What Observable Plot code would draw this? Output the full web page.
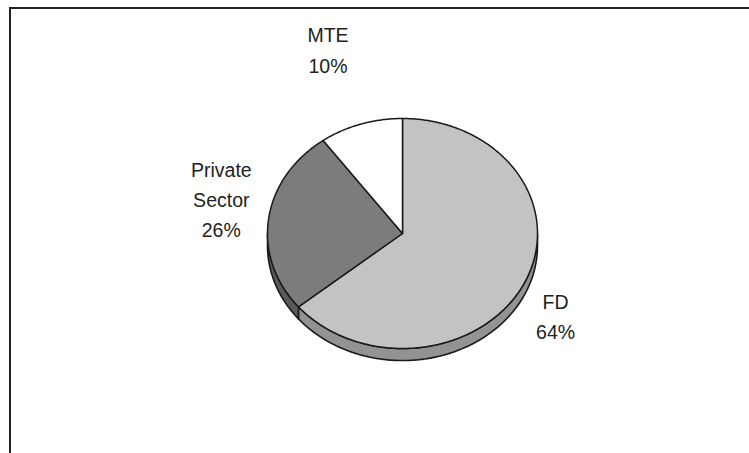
<!DOCTYPE html>
<html><head><meta charset="utf-8">
<script src="https://cdn.jsdelivr.net/npm/d3@7"></script>
<script src="https://cdn.jsdelivr.net/npm/@observablehq/plot@0.6"></script>
<style>
body{margin:0;background:#fff;}
#chart{position:relative;width:749px;height:453px;overflow:hidden;background:#fff;}
#frame{position:absolute;left:9px;top:7px;width:800px;height:500px;border-left:2px solid #222;border-top:2px solid #222;pointer-events:none;}
#chart svg{position:absolute;left:0;top:0;}
</style></head><body><div id="chart"><div id="frame"></div></div>
<script>
// data
const categories = ["FD", "Private Sector", "MTE"];
const shares = [64, 26, 10];
const labelLines = ["FD\n64%", "Private\nSector\n26%", "MTE\n10%"];

// styles
const topColors = ["#c3c3c3", "#7c7c7c", "#ffffff"];
const sideColors = ["#939393", "#5a5a5a", "#dddddd"];
const depth = 0.105;               // pie thickness in radius units
const labelRadius = 1.45;
const labelNudge = [[-24, 10], [13, -15], [-14, -27]]; // pixel nudges

const W = 749, H = 453, cx = 402, cy = 233, rx = 135, ry = 115;

const pie = d3.pie().sort(null).value(d => d.value);
const arcs = pie(categories.map((c, i) => ({name: c, value: shares[i], label: labelLines[i], i})));

function arcPts(a0, a1, off = 0) {
  const n = Math.max(2, Math.ceil((a1 - a0) / 0.01));
  return d3.range(n + 1).map(k => {
    const a = a0 + (a1 - a0) * k / n;
    return {x: Math.sin(a), y: Math.cos(a) - off};
  });
}

const marks = [];
// side walls (front half only: angles between PI/2 and 3PI/2)
arcs.forEach(a => {
  const s = Math.max(a.startAngle, Math.PI / 2), e = Math.min(a.endAngle, 3 * Math.PI / 2);
  if (e <= s) return;
  const topEdge = arcPts(s, e, 0);
  const botEdge = arcPts(s, e, depth).reverse();
  const poly = [...topEdge, ...botEdge, topEdge[0]];
  marks.push(Plot.line(poly, {x: "x", y: "y", fill: sideColors[a.data.i], stroke: "#1a1a1a", strokeWidth: 1.6, strokeLinejoin: "round"}));
});
// top faces
arcs.forEach(a => {
  const poly = [{x: 0, y: 0}, ...arcPts(a.startAngle, a.endAngle), {x: 0, y: 0}];
  marks.push(Plot.line(poly, {x: "x", y: "y", fill: topColors[a.data.i], stroke: "#1a1a1a", strokeWidth: 1.5, strokeLinejoin: "round"}));
});
// labels
arcs.forEach(a => {
  const m = (a.startAngle + a.endAngle) / 2;
  marks.push(Plot.text([{x: Math.sin(m) * labelRadius, y: Math.cos(m) * labelRadius, t: a.data.label}], {
    x: "x", y: "y", text: "t", dx: labelNudge[a.data.i][0], dy: labelNudge[a.data.i][1],
    fontSize: 19.5, lineHeight: 1.55, fill: "#222", textAnchor: "middle"
  }));
});

const chart = Plot.plot({
  width: W, height: H,
  margin: 0,
  style: {fontFamily: "'Liberation Sans', Arial, sans-serif", background: "transparent", overflow: "visible"},
  x: {domain: [-cx / rx, (W - cx) / rx], range: [0, W], axis: null},
  y: {domain: [-(H - cy) / ry, cy / ry], range: [H, 0], axis: null},
  marks
});
document.getElementById("chart").appendChild(chart);
</script>
</body></html>
